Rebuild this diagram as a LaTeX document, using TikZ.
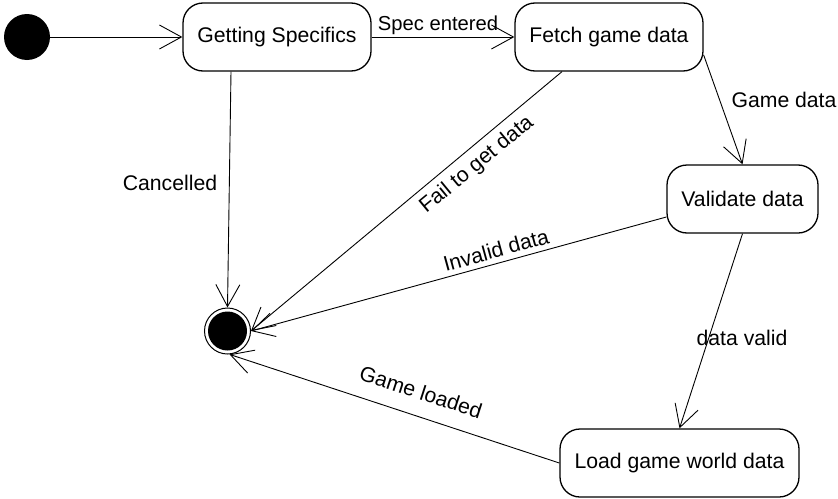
\documentclass[tikz,border=0pt]{standalone}
\usepackage{fontspec}
\setmainfont{Liberation Sans}
\usetikzlibrary{arrows.meta,calc}
\begin{document}
\begin{tikzpicture}[x=1pt,y=-1pt,
  state/.style={draw,line width=1.3pt,rounded corners=20pt,minimum height=68pt,inner sep=0pt,font=\fontsize{21.2}{25}\selectfont},
  lbl/.style={font=\fontsize{21.2}{25}\selectfont,inner sep=0pt},
  trans/.style={line width=0.9pt,-{Straight Barb[length=22pt,width=24pt,line width=0.9pt]}},
]
\useasboundingbox (0,0) rectangle (838,498);
% states
\node[circle,fill,minimum size=46pt,inner sep=0pt] (init) at (27,37) {};
\node[state,minimum width=188pt] (gs) at (277,37) {Getting Specifics};
\node[state,minimum width=188pt] (fetch) at (609,37) {Fetch game data};
\node[state,minimum width=151pt] (valid) at (742.5,199) {Validate data};
\node[state,minimum width=239pt] (load) at (679.5,463) {Load game world data};
\node[circle,draw,line width=1pt,minimum size=46pt,inner sep=0pt] (final) at (227.5,331) {};
\fill (final.center) circle (19.5pt);
% transitions
\draw[trans] (init) -- (gs);
\draw[trans] (gs) -- (fetch);
\draw[trans] ([xshift=-46pt]gs.south) -- (final.north);
\draw[trans] ([xshift=-47pt]fetch.south) -- (final.east);
\draw[trans] ([yshift=-18pt]valid.west) -- (final.east);
\draw[trans] (load.west) -- (final.-85);
\draw[trans] ([yshift=-18pt]fetch.east) -- (valid.north);
\draw[trans] (valid.south) -- (load.north);
% labels
\node[lbl,font=\fontsize{20.2}{24}\selectfont] (l1) at (438,25) {Spec entered};
\node[lbl] (l2) at (170,183) {Cancelled};
\node[lbl,rotate=39.5] (l3) at (477,165) {Fail to get data};
\node[lbl,rotate=15.4] (l4) at (496,250) {Invalid data};
\node[lbl,rotate=-18] (l5) at (421,392) {Game loaded};
\node[lbl] (l6) at (784,100) {Game data};
\node[lbl] (l7) at (742,338) {data valid};
\end{tikzpicture}
\end{document}
